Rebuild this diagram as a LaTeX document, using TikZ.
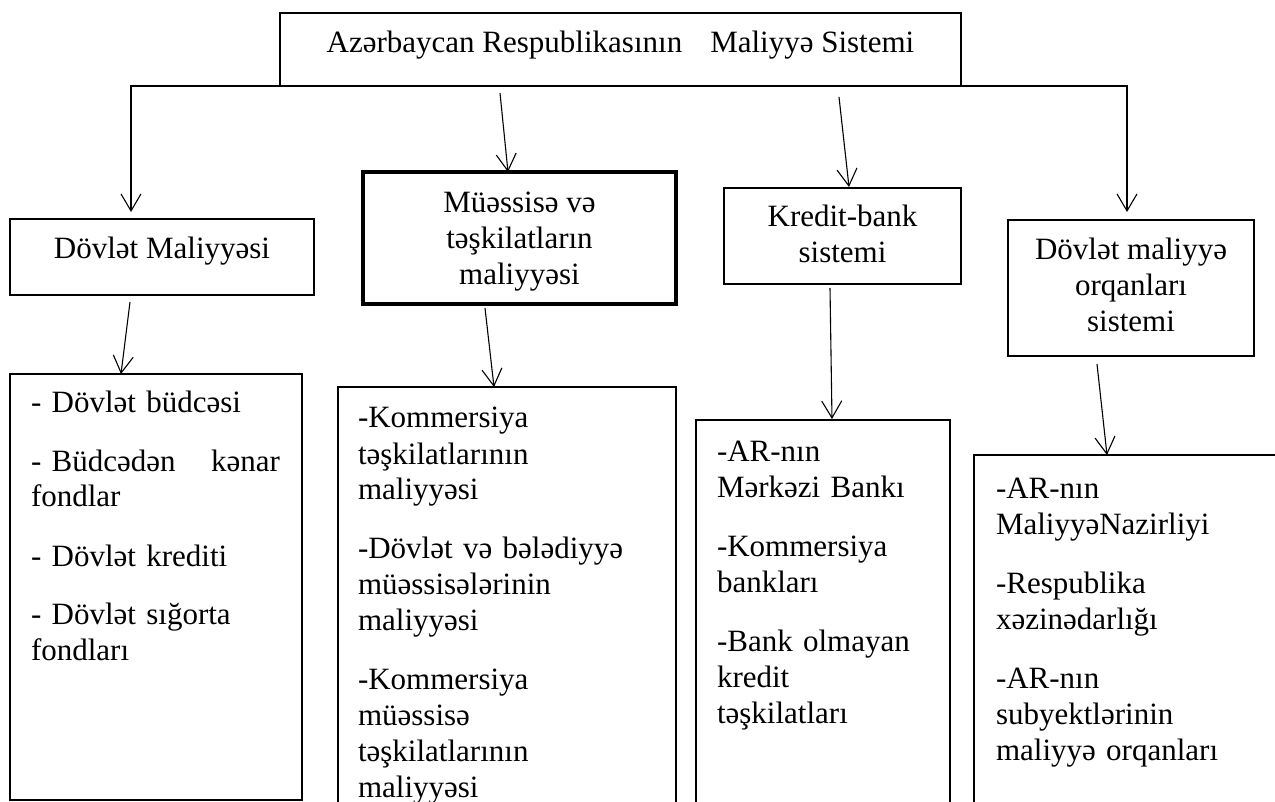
\documentclass[tikz,border=0pt]{standalone}
\usepackage{fontspec}
\setmainfont{Liberation Serif}
\usetikzlibrary{arrows.meta,calc}
\newcommand\upst{\rule{0pt}{30pt}}
\newcommand\dnst[1]{\rule[-#1pt]{0pt}{0pt}}
\begin{document}
\begin{tikzpicture}[x=1pt,y=-1pt,
  box/.style={draw, line width=1.1pt, rectangle, inner sep=0pt, outer sep=0pt,
    anchor=north west, align=center, font=\fontsize{31pt}{36pt}\selectfont},
  thickbox/.style={box, line width=3.2pt},
  listtext/.style={anchor=north west, inner sep=0pt, outer sep=0pt, align=left,
    text width=300pt, font=\fontsize{31pt}{36pt}\selectfont},
  arr/.style={line width=1.1pt, -{Straight Barb[length=17pt,width=20pt]}}]
\useasboundingbox (0,0) rectangle (1275,802);
\clip (0,0) rectangle (1275,802);

% upper boxes
\node[box, minimum width=681pt, minimum height=73pt] (top) at (280,13)
  {\upst Azərbaycan Respublikasının\hspace{28pt}Maliyyə Sistemi\dnst{23}};
\node[box, minimum width=304pt, minimum height=76pt] (dm) at (10,219)
  {\upst Dövlət Maliyyəsi\dnst{26}};
\node[thickbox, minimum width=313pt, minimum height=132pt] (mt) at (363,172)
  {\upst Müəssisə və\\təşkilatların\\maliyyəsi\dnst{8}};
\node[box, minimum width=237pt, minimum height=96pt] (kb) at (724,188)
  {\upst Kredit-bank\\sistemi\dnst{12}};
\node[box, minimum width=246pt, minimum height=136pt] (do) at (1008,220)
  {\upst Dövlət maliyyə\\orqanları\\sistemi\dnst{14}};

% lower boxes
\node[box, minimum width=292pt, minimum height=426pt] (L1) at (10,374) {};
\node[box, minimum width=338pt, minimum height=500pt] (L2) at (338,387) {};
\node[box, minimum width=254pt, minimum height=500pt] (L3) at (696,420) {};
\node[box, minimum width=400pt, minimum height=500pt] (L4) at (974,455) {};

\node[listtext, text width=249pt] (t1) at ($(L1.north west)+(21,8)$)
  {\upst- Dövlət büdcəsi\\[23pt]- Büdcədən \hfill kənar\\fondlar\\[23pt]- Dövlət krediti\\[23pt]- Dövlət sığorta\\fondları};
\node[listtext] (t2) at ($(L2.north west)+(20,11)$)
  {\upst-Kommersiya\\təşkilatlarının\\maliyyəsi\\[23pt]-Dövlət və bələdiyyə\\müəssisələrinin\\maliyyəsi\\[23pt]-Kommersiya\\müəssisə\\təşkilatlarının\\maliyyəsi};
\node[listtext] (t3) at ($(L3.north west)+(21,11)$)
  {\upst-AR-nın\\Mərkəzi Bankı\\[23pt]-Kommersiya\\bankları\\[23pt]-Bank olmayan\\kredit\\təşkilatları};
\node[listtext] (t4) at ($(L4.north west)+(22,13)$)
  {\upst-AR-nın\\MaliyyəNazirliyi\\[23pt]-Respublika\\xəzinədarlığı\\[23pt]-AR-nın\\subyektlərinin\\maliyyə orqanları};

% connectors
\draw[arr] (top.south west) -| ($(dm.north west)+(121,-7)$);
\draw[arr] ($(top.south west)+(220,7)$) -- ($(mt.north west)+(145,0)$);
\draw[arr] ($(top.south west)+(559,11)$) -- ($(kb.north west)+(125,-1)$);
\draw[arr] (top.south east) -| ($(do.north west)+(119,-8)$);
\draw[arr] ($(dm.south west)+(120,7)$) -- ($(L1.north west)+(111,0)$);
\draw[arr] ($(mt.south west)+(122,4)$) -- ($(L2.north west)+(156,0)$);
\draw[arr] ($(kb.south west)+(106,4)$) -- ($(L3.north west)+(136,-1)$);
\draw[arr] ($(do.south west)+(89,8)$) -- ($(L4.north west)+(133,0)$);
\end{tikzpicture}
\end{document}
